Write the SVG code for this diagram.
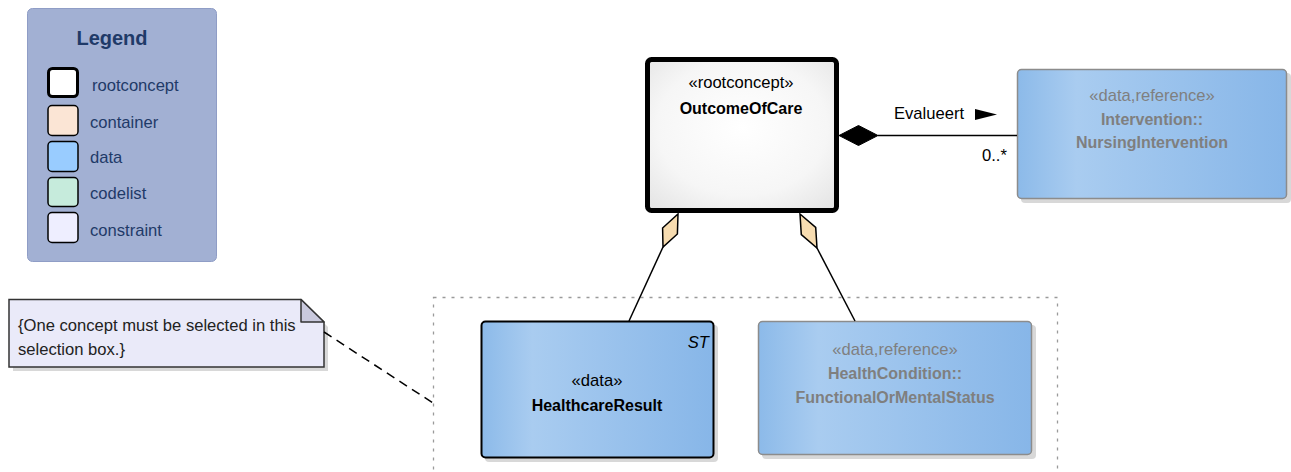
<svg xmlns="http://www.w3.org/2000/svg" width="1291" height="472" viewBox="0 0 1291 472">
<style>
text{font-family:"Liberation Sans",Arial,sans-serif;font-size:16.6px;}
.leg{fill:#1f3a68;}
.b{font-weight:bold;font-size:16px;}
.g{fill:#7f7f7f;}
.k{fill:#000;}
.sw{stroke:#000;stroke-width:1.5;}
.shadow{fill:#c8c8c8;opacity:0.7;}
.conn{stroke:#000;stroke-width:1.5;fill:none;}
</style>
<defs>
<linearGradient id="blue" x1="0" y1="0" x2="1" y2="0">
<stop offset="0" stop-color="#8cbae9"/>
<stop offset="0.22" stop-color="#a9ccf0"/>
<stop offset="1" stop-color="#87b6e8"/>
</linearGradient>
<radialGradient id="root" cx="0.5" cy="0.45" r="0.75">
<stop offset="0" stop-color="#ffffff"/>
<stop offset="0.6" stop-color="#f6f6f6"/>
<stop offset="1" stop-color="#e2e2e2"/>
</radialGradient>
</defs>

<g id="legend">
<rect x="27.5" y="8.5" width="189" height="253" rx="5" fill="#a2b0d3" stroke="#8f9dc6"/>
<text x="112" y="45" text-anchor="middle" class="leg b" style="font-size:20px">Legend</text>
<rect x="48.5" y="68.5" width="29" height="28" rx="4" fill="#fff" stroke="#000" stroke-width="3"/>
<text x="92" y="91" class="leg">rootconcept</text>
<rect x="48" y="105.5" width="30" height="30" rx="4" fill="#fbe5d5" class="sw"/>
<text x="90" y="128" class="leg">container</text>
<rect x="48" y="141.5" width="30" height="30" rx="4" fill="#99ccff" class="sw"/>
<text x="90" y="163" class="leg">data</text>
<rect x="48" y="177.5" width="30" height="29" rx="4" fill="#c6ebdc" class="sw"/>
<text x="90" y="199" class="leg">codelist</text>
<rect x="48" y="212.5" width="30" height="30" rx="4" fill="#eeeeff" class="sw"/>
<text x="90" y="236" class="leg">constraint</text>
</g>

<g id="selection-box">
<rect x="433.5" y="297.5" width="624" height="200" fill="none" stroke="#9a9a9a" stroke-width="1.3" stroke-dasharray="3,6"/>
</g>

<g id="note">
<polygon points="13,304 305,304 328,327 328,371 13,371" class="shadow"/>
<polygon points="9,299.5 301,299.5 324,322 324,367 9,367" fill="#eaeaf9" stroke="#333" stroke-width="1.5"/>
<polygon points="301,299.5 301,322 324,322" fill="#c9c9dd" stroke="#333" stroke-width="1.5" stroke-linejoin="round"/>
<text x="18" y="331" fill="#222">{One concept must be selected in this</text>
<text x="18" y="355" fill="#222">selection box.}</text>
</g>

<g id="OutcomeOfCare">
<rect x="647.5" y="59.5" width="189" height="151" rx="4" fill="url(#root)" stroke="#000" stroke-width="5"/>
<text x="741" y="88" text-anchor="middle" class="k">«rootconcept»</text>
<text x="741" y="114" text-anchor="middle" class="k b">OutcomeOfCare</text>
</g>

<g id="NursingIntervention">
<rect x="1021" y="73" width="270" height="130" rx="4" class="shadow"/>
<rect x="1017.5" y="69.5" width="269" height="129" rx="4" fill="url(#blue)" stroke="#8c8c8c" stroke-width="1.5"/>
<text x="1152" y="101" text-anchor="middle" class="g">«data,reference»</text>
<text x="1152" y="125" text-anchor="middle" class="g b">Intervention::</text>
<text x="1152" y="148" text-anchor="middle" class="g b">NursingIntervention</text>
</g>

<g id="HealthcareResult">
<rect x="485" y="325" width="233" height="137" rx="4" class="shadow"/>
<rect x="481.5" y="321.5" width="232" height="136" rx="4" fill="url(#blue)" stroke="#000" stroke-width="2"/>
<text x="709" y="348" text-anchor="end" class="k" style="font-style:italic">ST</text>
<text x="597" y="386" text-anchor="middle" class="k">«data»</text>
<text x="597" y="411" text-anchor="middle" class="k b">HealthcareResult</text>
</g>

<g id="FunctionalOrMentalStatus">
<rect x="762" y="325" width="274" height="134" rx="4" class="shadow"/>
<rect x="758.5" y="321.5" width="273" height="133" rx="4" fill="url(#blue)" stroke="#8c8c8c" stroke-width="1.5"/>
<text x="895" y="355" text-anchor="middle" class="g">«data,reference»</text>
<text x="895" y="379" text-anchor="middle" class="g b">HealthCondition::</text>
<text x="895" y="403" text-anchor="middle" class="g b">FunctionalOrMentalStatus</text>
</g>

<g id="connectors">
<line x1="878" y1="135.5" x2="1017" y2="135.5" class="conn"/>
<polygon points="839,135.5 858.5,125.5 878,135.5 858.5,145.5" fill="#000" stroke="#000"/>
<text x="894" y="119" class="k">Evalueert</text>
<polygon points="975,109 997,114.5 975,120" fill="#000"/>
<text x="982" y="161" class="k">0..*</text>

<line x1="663" y1="247" x2="629" y2="321" class="conn"/>
<polygon points="678,214 677.4,234 663,247 662.6,228" fill="#f7dcb0" stroke="#000" stroke-width="1.5"/>

<line x1="817" y1="248" x2="855" y2="321" class="conn"/>
<polygon points="800,214 815.7,227.4 817,248 801.3,234.6" fill="#f7dcb0" stroke="#000" stroke-width="1.5"/>

<line x1="324" y1="332" x2="433" y2="403" stroke="#000" stroke-width="1.5" stroke-dasharray="9,6"/>
</g>
</svg>
